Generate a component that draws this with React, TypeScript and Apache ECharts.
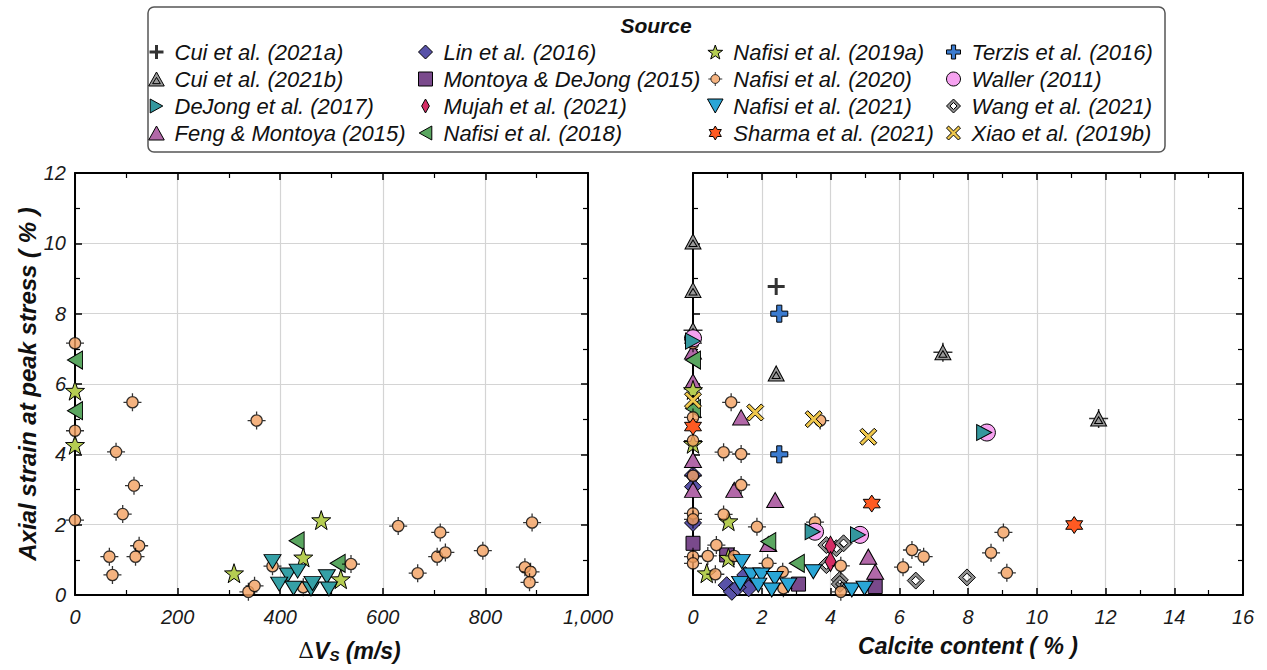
import React, { useEffect, useRef } from 'react';
import * as echarts from 'echarts';

const FONT = "'Liberation Sans', Arial, Helvetica, sans-serif";

// ---- axis ranges / ticks ----
const vsRange = [0, 1000];
const vsInterval = 200;
const calciteRange = [0, 16];
const calciteInterval = 2;
const strainRange = [0, 12];
const strainInterval = 2;

// ---- legend columns ----
const legendCol1 = ['Cui et al. (2021a)', 'Cui et al. (2021b)', 'DeJong et al. (2017)', 'Feng & Montoya (2015)'];
const legendCol2 = ['Lin et al. (2016)', 'Montoya & DeJong (2015)', 'Mujah et al. (2021)', 'Nafisi et al. (2018)'];
const legendCol3 = ['Nafisi et al. (2019a)', 'Nafisi et al. (2020)', 'Nafisi et al. (2021)', 'Sharma et al. (2021)'];
const legendCol4 = ['Terzis et al. (2016)', 'Waller (2011)', 'Wang et al. (2021)', 'Xiao et al. (2019b)'];

// ---- data: [x, axial strain %] ----
// left panel: x = ΔVs (m/s)
const nafisi2018Vs = [[0, 6.68], [0, 5.24], [432, 1.54], [512, 0.9]];
const nafisi2019aVs = [[0, 5.81], [0, 4.27], [310, 0.62], [480, 2.13], [445, 1.07], [518, 0.45]];
const nafisi2020Vs = [
  [0, 7.16], [0, 4.67], [0, 2.13], [112, 5.48], [354, 4.96], [80, 4.07], [115, 3.11], [93, 2.3],
  [67, 1.09], [125, 1.4], [118, 1.09], [73, 0.57], [338, 0.09], [350, 0.26], [385, 0.82], [445, 0.22],
  [538, 0.88], [630, 1.96], [668, 0.62], [712, 1.78], [706, 1.09], [722, 1.21], [795, 1.26], [891, 2.06],
  [877, 0.79], [888, 0.66], [886, 0.36],
];
const nafisi2021Vs = [[385, 0.95], [415, 0.57], [434, 0.68], [398, 0.31], [426, 0.19], [460, 0.17], [463, 0.33], [491, 0.52], [495, 0.17]];

// right panel: x = calcite content (%)
const cui2021aCalcite = [[2.42, 8.77]];
const cui2021bCalcite = [[0, 10.05], [0, 8.67], [0, 7.53], [2.42, 6.3], [7.27, 6.9], [11.8, 5.02]];
const cui2021bErrCalcite = [[0, 7.53], [7.27, 6.9], [11.8, 5.02]];
const dejong2017Calcite = [[0, 7.22], [3.48, 1.8], [4.8, 1.71], [8.47, 4.62]];
const fengCalcite = [[0, 6.92], [0, 6.07], [0, 3.84], [0, 2.99], [1.4, 5.05], [1.2, 2.99], [2.39, 2.7], [2.19, 1.45], [5.1, 1.09], [5.3, 0.66]];
const linCalcite = [[0, 3.41], [0, 3.08], [0, 2.05], [0.98, 0.28], [1.13, 0.09], [1.52, 0.57], [1.62, 0.19], [1.3, 0.22]];
const montoyaCalcite = [[0, 1.47], [0.98, 1.14], [3.07, 0.31], [5.3, 0.24]];
const mujahCalcite = [[4.0, 1.39], [4.0, 0.95]];
const nafisi2018Calcite = [[0, 6.68], [0, 5.3], [2.19, 1.52], [3.02, 0.9]];
const nafisi2019aCalcite = [[0, 5.83], [0, 4.3], [1.03, 2.1], [0.4, 0.62], [1.03, 1.06]];
const nafisi2020Calcite = [
  [0, 7.16], [0, 5.05], [0, 4.39], [0, 3.39], [0, 2.32], [0, 2.15], [0, 1.09], [0, 0.9],
  [1.11, 5.48], [3.7, 4.96], [0.89, 4.06], [1.4, 4.01], [1.4, 3.13], [0.89, 2.29], [1.86, 1.94], [3.55, 2.07],
  [0.68, 1.42], [0.43, 1.11], [1.2, 1.11], [0.65, 0.59], [2.17, 0.9], [2.61, 0.66], [4.3, 0.83], [2.63, 0.19],
  [4.3, 0.09], [6.11, 0.79], [6.37, 1.28], [6.71, 1.09], [8.67, 1.2], [9.03, 1.78], [9.13, 0.63],
];
const nafisi2021Calcite = [[1.42, 0.95], [3.5, 0.66], [1.37, 0.33], [1.7, 0.57], [1.99, 0.57], [2.38, 0.47], [1.9, 0.28], [2.29, 0.14], [2.77, 0.28], [4.62, 0.14], [4.99, 0.19]];
const sharmaCalcite = [[0, 4.79], [5.2, 2.6], [11.09, 1.99]];
const terzisCalcite = [[2.51, 8.0], [2.51, 4.0]];
const wallerCalcite = [[0, 7.3], [3.55, 1.8], [4.86, 1.71], [8.55, 4.62]];
const wangCalcite = [[3.88, 1.42], [4.17, 1.33], [4.38, 1.47], [3.88, 0.85], [4.27, 0.43], [4.27, 0.31], [6.48, 0.41], [7.97, 0.5]];
const xiaoCalcite = [[0, 5.54], [1.81, 5.19], [3.51, 5.0], [5.1, 4.5]];

// ---- marker shapes ----
const SYM = {
  thinPlus: 'path://M0,-10L0,10M-10,0L10,0',
  fatPlus: 'path://M-3,-10L3,-10L3,-3L10,-3L10,3L3,3L3,10L-3,10L-3,3L-10,3L-10,-3L-3,-3Z',
  fatX: 'path://M-10,-7L-7,-10L0,-3L7,-10L10,-7L3,0L10,7L7,10L0,3L-7,10L-10,7L-3,0Z',
  star5: 'path://M0,-10L2.351,-3.236L9.511,-3.09L3.804,1.236L5.878,8.09L0,4L-5.878,8.09L-3.804,1.236L-9.511,-3.09L-2.351,-3.236Z',
  star6: 'path://M0,-10L2.887,-5L8.66,-5L5.774,0L8.66,5L2.887,5L0,10L-2.887,5L-8.66,5L-5.774,0L-8.66,-5L-2.887,-5Z',
  crossCircle: 'path://M0,-10L0,-6.3M0,6.3L0,10M-10,0L-6.3,0M6.3,0L10,0M-6.3,0A6.3,6.3,0,1,0,6.3,0A6.3,6.3,0,1,0,-6.3,0Z',
  dblTri: 'path://M0,-10L10,8L-10,8ZM0,-3L5,5L-5,5Z',
  dblDiamond: 'path://M0,-10L10,0L0,10L-10,0ZM0,-5L-5,0L0,5L5,0Z',
  triLeft: 'path://M-10,0L8,-10L8,10Z',
  triRight: 'path://M10,0L-8,-10L-8,10Z',
  triDown: 'path://M-10,-8L10,-8L0,10Z',
  triUp: 'path://M-10,8L10,8L0,-10Z',
  diamond: 'path://M0,-10L10,0L0,10L-10,0Z',
  square: 'path://M-10,-10L10,-10L10,10L-10,10Z',
  narrowDiamond: 'path://M0,-10L5.5,0L0,10L-5.5,0Z',
};

const C = {
  cuiA: '#000000',
  cuiB: '#9a9a9a',
  dejong: '#34979e',
  feng: '#b268a8',
  lin: '#5852a8',
  montoya: '#7a4a8c',
  mujah: '#d42c64',
  n2018: '#5aa660',
  n2019a: '#b5cd52',
  n2020: '#f2a060',
  n2021: '#2aa6d6',
  n2021left: '#35a0a6',
  sharma: '#ff5a22',
  terzis: '#3b7bcf',
  waller: '#f6a2f0',
  wang: '#8e8e8e',
  xiao: '#f0c84c',
};

function sc(name: string, data: number[][], side: number, symbol: string, size: any, color: string, extra: any = {}) {
  return {
    type: 'scatter',
    name,
    data,
    xAxisIndex: side,
    yAxisIndex: side,
    symbol,
    symbolSize: size,
    clip: false,
    itemStyle: { color, borderColor: '#000', borderWidth: 1, opacity: 1 },
    emphasis: { disabled: true },
    ...extra,
  };
}

function axisCommon(min: number, max: number, interval: number, grid: number, position: string, primary: boolean) {
  return {
    type: 'value',
    gridIndex: grid,
    position,
    min,
    max,
    interval,
    axisLine: { show: true, onZero: false, lineStyle: { color: '#000', width: 2 } },
    axisTick: { show: true, inside: true, length: 7, lineStyle: { color: '#000', width: 1.5 } },
    minorTick: { show: true, splitNumber: 2, length: 5, lineStyle: { color: '#000', width: 1.2 } },
    splitLine: { show: primary, lineStyle: { color: '#d4d4d4', width: 1.2 } },
    axisLabel: { show: false },
  };
}

const tickLabel = { fontFamily: FONT, fontSize: 20, fontStyle: 'italic', color: '#1a1a1a' };
const titleStyle = { fontFamily: FONT, fontSize: 23, fontStyle: 'italic', fontWeight: 'bold', color: '#111' };

function makeLegend(names: string[], left: number) {
  return {
    orient: 'vertical',
    left,
    top: 41,
    padding: 0,
    itemGap: 5,
    itemWidth: 26,
    itemHeight: 14,
    selectedMode: false,
    textStyle: { fontFamily: FONT, fontSize: 22, fontStyle: 'italic', color: '#111', lineHeight: 22 },
    data: names.map((n) => ({
      name: n,
      itemStyle: n === 'Cui et al. (2021a)' ? { borderWidth: 3, borderColor: '#000', color: '#000' } : { borderWidth: 1 },
    })),
  };
}

export default function App() {
  const ref = useRef<HTMLDivElement>(null);
  useEffect(() => {
    if (!ref.current) return;
    const chart = echarts.init(ref.current, null, { renderer: 'svg' });

    const xVs: any = {
      ...axisCommon(vsRange[0], vsRange[1], vsInterval, 0, 'bottom', true),
      axisLabel: { show: true, margin: 12, ...tickLabel, formatter: (v: number) => v.toLocaleString('en-US') },
      name: '{d|\u0394}{v|V}{s|S}{v| (m/s)}',
      nameLocation: 'middle',
      nameGap: 43,
      nameTextStyle: {
        padding: [0, 0, 0, 36],
        rich: {
          d: { fontFamily: 'DejaVu Serif', fontSize: 22, color: '#111' },
          v: { ...titleStyle },
          s: { ...titleStyle, fontSize: 15, padding: [10, 0, 0, 0] },
        },
      },
    };
    const xCal: any = {
      ...axisCommon(calciteRange[0], calciteRange[1], calciteInterval, 1, 'bottom', true),
      axisLabel: { show: true, margin: 12, ...tickLabel },
      name: 'Calcite content ( % )',
      nameLocation: 'middle',
      nameGap: 39,
      nameTextStyle: titleStyle,
    };
    const yLeft: any = {
      ...axisCommon(strainRange[0], strainRange[1], strainInterval, 0, 'left', true),
      axisLabel: { show: true, margin: 9, ...tickLabel },
      name: 'Axial strain at peak stress ( % )',
      nameLocation: 'middle',
      nameGap: 36,
      nameTextStyle: { ...titleStyle, fontSize: 24 },
    };
    const yRight: any = axisCommon(strainRange[0], strainRange[1], strainInterval, 1, 'left', true);

    const series: any[] = [
      // error bars behind Cui et al. (2021b)
      sc('cui-err', cui2021bErrCalcite, 1, SYM.thinPlus, 19, 'none', { itemStyle: { color: 'none', borderColor: '#000', borderWidth: 1.5 } }),
      sc('Cui et al. (2021a)', cui2021aCalcite, 1, SYM.thinPlus, 17, C.cuiA, { itemStyle: { color: C.cuiA, borderColor: '#000', borderWidth: 3 } }),
      sc('Cui et al. (2021b)', cui2021bCalcite, 1, SYM.dblTri, [16, 15], C.cuiB),
      sc('Lin et al. (2016)', linCalcite, 1, SYM.diamond, 17, C.lin),
      sc('Montoya & DeJong (2015)', montoyaCalcite, 1, SYM.square, 14, C.montoya),
      sc('Feng & Montoya (2015)', fengCalcite, 1, SYM.triUp, [17, 15], C.feng),
      sc('Wang et al. (2021)', wangCalcite, 1, SYM.dblDiamond, 17, C.wang),
      sc('Mujah et al. (2021)', mujahCalcite, 1, SYM.narrowDiamond, [11, 20], C.mujah),
      sc('Nafisi et al. (2018)', nafisi2018Calcite, 1, SYM.triLeft, [15, 18], C.n2018),
      sc('Nafisi et al. (2018)', nafisi2018Vs, 0, SYM.triLeft, [15, 18], C.n2018),
      sc('Nafisi et al. (2019a)', nafisi2019aCalcite, 1, SYM.star5, 19, C.n2019a),
      sc('Nafisi et al. (2019a)', nafisi2019aVs, 0, SYM.star5, 19, C.n2019a),
      sc('Nafisi et al. (2020)', nafisi2020Calcite, 1, SYM.crossCircle, 18, C.n2020, { itemStyle: { color: C.n2020, borderColor: '#000', borderWidth: 1.3 } }),
      sc('Nafisi et al. (2020)', nafisi2020Vs, 0, SYM.crossCircle, 18, C.n2020, { itemStyle: { color: C.n2020, borderColor: '#000', borderWidth: 1.3 } }),
      sc('Nafisi et al. (2021)', nafisi2021Calcite, 1, SYM.triDown, [17, 14], C.n2021),
      sc('Nafisi et al. (2021)', nafisi2021Vs, 0, SYM.triDown, [17, 14], C.n2021left),
      sc('Sharma et al. (2021)', sharmaCalcite, 1, SYM.star6, 17, C.sharma),
      sc('Terzis et al. (2016)', terzisCalcite, 1, SYM.fatPlus, 17, C.terzis),
      sc('Waller (2011)', wallerCalcite, 1, 'circle', 17, C.waller),
      sc('DeJong et al. (2017)', dejong2017Calcite, 1, SYM.triRight, [15, 16], C.dejong),
      sc('Xiao et al. (2019b)', xiaoCalcite, 1, SYM.fatX, 17, C.xiao),
    ];

    chart.setOption({
      animation: false,
      backgroundColor: '#fff',
      textStyle: { fontFamily: FONT },
      grid: [
        { left: 75, top: 173, width: 513, height: 422 },
        { left: 693, top: 173, width: 550, height: 422 },
      ],
      xAxis: [
        xVs,
        xCal,
        axisCommon(vsRange[0], vsRange[1], vsInterval, 0, 'top', false),
        axisCommon(calciteRange[0], calciteRange[1], calciteInterval, 1, 'top', false),
      ],
      yAxis: [
        yLeft,
        yRight,
        axisCommon(strainRange[0], strainRange[1], strainInterval, 0, 'right', false),
        axisCommon(strainRange[0], strainRange[1], strainInterval, 1, 'right', false),
      ],
      legend: [
        makeLegend(legendCol1, 148),
        makeLegend(legendCol2, 418),
        makeLegend(legendCol3, 707),
        makeLegend(legendCol4, 946),
      ],
      graphic: [
        {
          type: 'rect',
          silent: true,
          z: -1,
          shape: { x: 148, y: 7, width: 1017, height: 145, r: 6 },
          style: { fill: '#fff', stroke: '#555', lineWidth: 1.5 },
        },
        {
          type: 'text',
          silent: true,
          x: 656,
          y: 25,
          style: {
            text: 'Source',
            fontFamily: FONT,
            fontSize: 21,
            fontWeight: 'bold',
            fontStyle: 'italic',
            fill: '#111',
            align: 'center',
            verticalAlign: 'middle',
          },
        },
      ],
      series,
    });
    return () => chart.dispose();
  }, []);
  return <div ref={ref} style={{ position: 'absolute', left: 0, top: 0, width: 1267, height: 670 }} />;
}
